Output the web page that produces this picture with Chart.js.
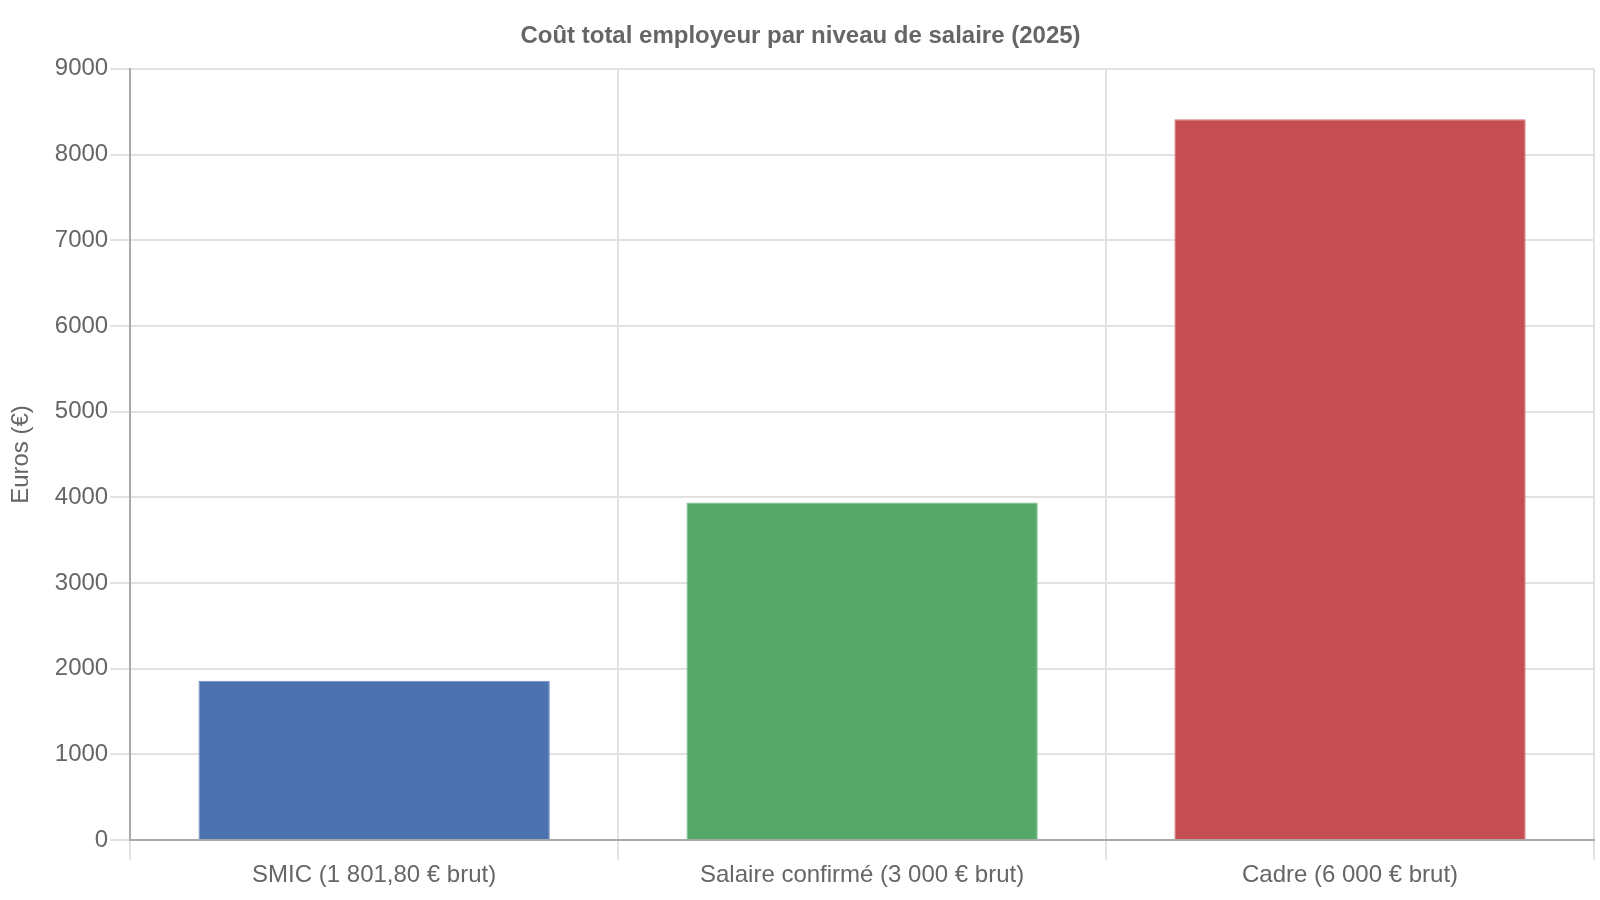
<!DOCTYPE html>
<html>
<head>
<meta charset="utf-8">
<script src="https://cdn.jsdelivr.net/npm/chart.js@4"></script>
<style>
html,body{margin:0;padding:0;background:#fff;}
#wrap{width:1600px;height:900px;position:relative;}
</style>
</head>
<body>
<div id="wrap"><canvas id="c"></canvas></div>
<script>
const categories = ["SMIC (1 801,80 € brut)", "Salaire confirmé (3 000 € brut)", "Cadre (6 000 € brut)"];
const values = [1860, 3940, 8410];
const barColors = ["#4C72B0", "#55A868", "#C44E52"];
const borderColors = ["#6f8fc4", "#77bd88", "#d77478"];
const titleText = "Coût total employeur par niveau de salaire (2025)";
const yTitle = "Euros (€)";

Chart.defaults.font.family = "'Liberation Sans', Arial, sans-serif";
Chart.defaults.color = "#666";

new Chart(document.getElementById('c'), {
  type: 'bar',
  data: {
    labels: categories,
    datasets: [{
      data: values,
      backgroundColor: barColors,
      borderColor: borderColors,
      borderWidth: 1
    }]
  },
  options: {
    responsive: true,
    maintainAspectRatio: false,
    animation: false,
    layout: { padding: { top: 12, right: 6, left: 7, bottom: 9 } },
    plugins: {
      legend: { display: false },
      tooltip: { enabled: false },
      title: {
        display: true,
        text: titleText,
        color: "#666",
        font: { size: 24, weight: 'bold' },
        padding: { top: 10, bottom: 18 }
      }
    },
    scales: {
      x: {
        grid: { color: "#e2e2e2", lineWidth: 2, tickLength: 20, offset: true },
        border: { color: "#aaa", width: 2 },
        ticks: { font: { size: 24 }, color: "#666", padding: 1 }
      },
      y: {
        min: 0, max: 9000,
        grid: { color: "#e2e2e2", lineWidth: 2, tickLength: 20 },
        border: { color: "#aaa", width: 2 },
        ticks: { stepSize: 1000, font: { size: 24 }, color: "#666", padding: 2,
                 callback: (v) => String(v) },
        title: { display: true, text: yTitle, font: { size: 24 }, color: "#666", padding: { top: 0, bottom: 17 } }
      }
    }
  }
});
</script>
</body>
</html>
